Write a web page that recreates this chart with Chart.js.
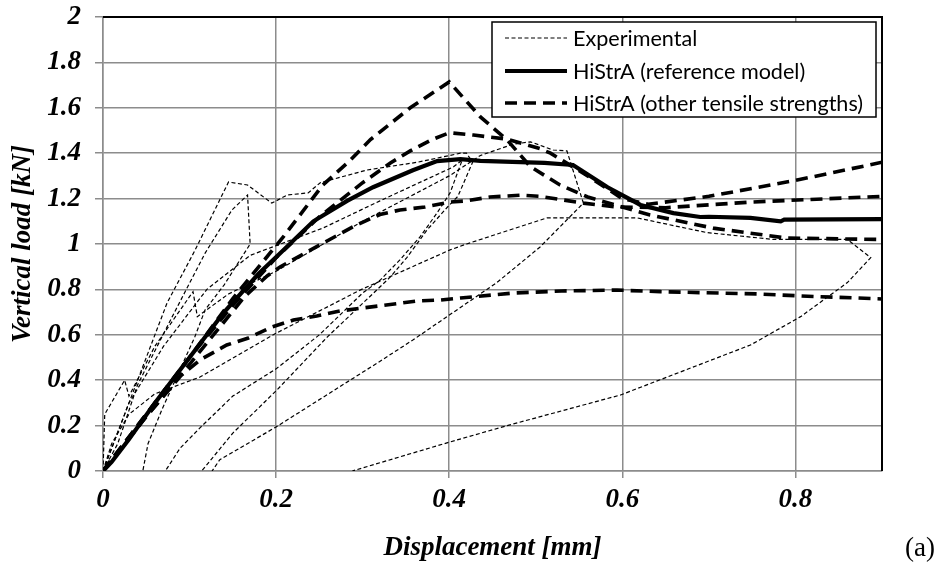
<!DOCTYPE html>
<html><head><meta charset="utf-8">
<script src="https://cdn.jsdelivr.net/npm/chart.js@4/dist/chart.umd.min.js"></script>
<style>html,body{margin:0;padding:0;background:#fff;}#wrap{width:945px;height:579px;position:relative;}</style>
</head><body><div id="wrap"><canvas id="c" width="945" height="579"></canvas></div>
<script>
// ---- data (displacement [mm], vertical load [kN]) ----
const xTickValues = [0, 0.2, 0.4, 0.6, 0.8];
const yTickValues = [0, 0.2, 0.4, 0.6, 0.8, 1, 1.2, 1.4, 1.6, 1.8, 2];
const legendLabels = ["Experimental", "HiStrA (reference model)", "HiStrA (other tensile strengths)"];

const refModel = [[0,0],[0.01,0.04],[0.03,0.14],[0.06,0.3],[0.1,0.5],[0.14,0.7],[0.18,0.87],[0.205,0.96],[0.243,1.1],[0.282,1.19],[0.312,1.25],[0.358,1.325],[0.386,1.365],[0.413,1.374],[0.436,1.366],[0.51,1.357],[0.543,1.348],[0.583,1.25],[0.621,1.172],[0.659,1.136],[0.69,1.119],[0.70,1.12],[0.748,1.115],[0.783,1.10],[0.787,1.107],[0.9,1.11]];

const otherA = [[0,0],[0.05,0.25],[0.1,0.5],[0.15,0.76],[0.208,1.03],[0.254,1.26],[0.286,1.37],[0.309,1.46],[0.355,1.6],[0.4,1.714],[0.436,1.56],[0.467,1.458],[0.494,1.34],[0.528,1.26],[0.56,1.207],[0.632,1.128],[0.705,1.07],[0.79,1.026],[0.9,1.02]];
const otherB = [[0,0],[0.05,0.25],[0.1,0.5],[0.15,0.73],[0.2,0.94],[0.25,1.12],[0.3,1.27],[0.332,1.357],[0.355,1.41],[0.38,1.46],[0.4,1.49],[0.428,1.48],[0.467,1.462],[0.505,1.42],[0.517,1.40],[0.56,1.3],[0.6,1.2],[0.63,1.175],[0.7,1.21],[0.8,1.28],[0.9,1.36]];
const otherC = [[0,0],[0.05,0.24],[0.1,0.47],[0.164,0.77],[0.19,0.86],[0.205,0.9],[0.262,1.02],[0.291,1.08],[0.32,1.13],[0.343,1.15],[0.372,1.163],[0.401,1.185],[0.42,1.19],[0.447,1.207],[0.482,1.215],[0.505,1.21],[0.555,1.18],[0.594,1.163],[0.65,1.16],[0.75,1.185],[0.9,1.21]];
const otherD = [[0,0],[0.05,0.24],[0.09,0.42],[0.112,0.489],[0.143,0.555],[0.168,0.586],[0.195,0.634],[0.22,0.665],[0.247,0.683],[0.274,0.705],[0.3,0.718],[0.363,0.749],[0.39,0.753],[0.413,0.762],[0.474,0.784],[0.53,0.793],[0.594,0.797],[0.644,0.79],[0.756,0.78],[0.814,0.77],[0.9,0.758]];

const exp1 = [[0,0],[0.01,0.12],[0.03,0.25],[0.06,0.34],[0.112,0.414],[0.2,0.607],[0.297,0.797],[0.401,0.974],[0.42,1.0],[0.513,1.115],[0.617,1.115],[0.698,1.05],[0.775,1.02],[0.86,1.02],[0.887,0.94],[0.86,0.83],[0.806,0.68],[0.748,0.555],[0.598,0.335],[0.467,0.2],[0.401,0.128],[0.288,0]];
const exp2 = [[0,0],[0.02,0.2],[0.045,0.45],[0.074,0.74],[0.106,0.97],[0.145,1.273],[0.167,1.26],[0.195,1.18],[0.213,1.216],[0.237,1.225],[0.251,1.27],[0.305,1.326],[0.363,1.36],[0.413,1.4],[0.42,1.40],[0.427,1.36],[0.41,1.21],[0.398,1.163],[0.374,1.06],[0.351,0.94],[0.332,0.855],[0.317,0.8],[0.259,0.59],[0.201,0.357],[0.15,0.167],[0.114,0]];
const exp3 = [[0,0],[0.017,0.12],[0.04,0.38],[0.08,0.68],[0.118,0.96],[0.149,1.15],[0.167,1.216],[0.17,1.0],[0.14,0.82],[0.118,0.71],[0.106,0.59],[0.087,0.43],[0.068,0.27],[0.052,0.12],[0.046,0]];
const exp4 = [[0,0],[0.002,0.25],[0.025,0.40],[0.03,0.33],[0.06,0.55],[0.104,0.79],[0.109,0.68],[0.145,0.78],[0.2,0.88],[0.3,1.1],[0.4,1.3],[0.436,1.39],[0.474,1.44],[0.494,1.45],[0.52,1.414],[0.536,1.41],[0.555,1.18],[0.505,0.987],[0.455,0.83],[0.358,0.577],[0.317,0.476],[0.2,0.194],[0.135,0.05],[0.126,0]];
const exp5 = [[0,0],[0.03,0.3],[0.07,0.55],[0.12,0.8],[0.17,0.95],[0.205,1.0],[0.254,1.07],[0.32,1.19],[0.405,1.34],[0.415,1.37],[0.401,1.225],[0.386,1.137],[0.366,1.03],[0.343,0.93],[0.32,0.84],[0.3,0.784],[0.25,0.6],[0.2,0.45],[0.15,0.33],[0.112,0.19],[0.089,0.1],[0.072,0]];

const expCurves = [exp1, exp2, exp3, exp4, exp5];
const otherCurves = [otherA, otherB, otherC, otherD];

// ---- styles ----
const SERIF = '"Liberation Serif", "Times New Roman", serif';
const expStyle = {borderColor:'#000', borderWidth:1.2, borderDash:[4,2.5]};
const refStyle = {borderColor:'#000', borderWidth:4.2, borderDash:[]};
const othStyle = {borderColor:'#000', borderWidth:3.6, borderDash:[12,7]};

const toPts = arr => arr.map(p => ({x:p[0], y:p[1]}));
const datasets = [];
expCurves.forEach((c,i) => datasets.push(Object.assign({label: i===0?legendLabels[0]:'', data: toPts(c), order: 3}, expStyle)));
otherCurves.forEach((c,i) => datasets.push(Object.assign({label: i===0?legendLabels[2]:'', data: toPts(c), order: 2}, othStyle)));
datasets.push(Object.assign({label: legendLabels[1], data: toPts(refModel), order: 1}, refStyle));
datasets.forEach(d => { d.showLine = true; d.pointRadius = 0; d.pointHoverRadius = 0; d.tension = 0; d.fill = false; d.borderCapStyle = 'butt'; d.borderJoinStyle='miter'; });

const fmt = v => String(Number(v.toFixed(1)));

const framePlugin = {
  id: 'frame',
  afterDatasetsDraw(chart) {
    const {ctx, chartArea: a} = chart;
    ctx.save();
    ctx.strokeStyle = '#000'; ctx.lineWidth = 2; ctx.setLineDash([]);
    ctx.beginPath(); ctx.moveTo(a.left, a.top); ctx.lineTo(a.right, a.top); ctx.lineTo(a.right, a.bottom); ctx.stroke();
    // legend
    const bx = 492, by = 22, bw = 384, bh = 95;
    ctx.fillStyle = '#fff'; ctx.fillRect(bx, by, bw, bh);
    ctx.lineWidth = 1.5; ctx.strokeRect(bx, by, bw, bh);
    const styles = [expStyle, refStyle, othStyle];
    const rows = [38, 71, 103];
    ctx.font = '20px Lato';
    const w = ctx.measureText(legendLabels[2]).width;
    const fs = 20 * 290 / w;
    ctx.font = fs.toFixed(2) + 'px Lato';
    ctx.textBaseline = 'middle'; ctx.textAlign = 'left'; ctx.fillStyle = '#000';
    rows.forEach((y, i) => {
      const s = styles[i];
      ctx.strokeStyle = '#000'; ctx.lineWidth = s.borderWidth; ctx.setLineDash(s.borderDash); ctx.lineCap='butt';
      ctx.beginPath(); ctx.moveTo(505, y); ctx.lineTo(567, y); ctx.stroke();
      ctx.setLineDash([]);
      ctx.fillText(legendLabels[i], 573, y + 1);
    });
    // panel tag
    ctx.font = '27px ' + SERIF; ctx.textAlign = 'left';
    ctx.fillText('(a)', 905, 549);
    ctx.restore();
  }
};

new Chart(document.getElementById('c'), {
  type: 'scatter',
  data: {datasets},
  options: {
    responsive: false, animation: false, devicePixelRatio: 1,
    layout: {padding: {left: 0, right: 63, top: 17, bottom: 0}},
    plugins: {legend: {display: false}, tooltip: {enabled: false}},
    scales: {
      x: {
        type: 'linear', min: 0, max: 0.9,
        afterFit: s => { s.height = 108; s.paddingLeft = 0; s.paddingRight = 0; },
        ticks: {stepSize: 0.2, includeBounds: false, autoSkip: false, maxRotation: 0, padding: 6, color: '#000',
          font: {family: SERIF, size: 27, style: 'italic', weight: 'bold'}, callback: v => fmt(v)},
        afterBuildTicks: s => { s.ticks = xTickValues.map(v => ({value: v})); },
        grid: {color: '#8c8c8c', lineWidth: 1.5, tickLength: 7, drawTicks: true},
        border: {color: '#8c8c8c', width: 1.5},
        title: {display: true, text: 'Displacement [mm]', color: '#000', padding: {top: 0, bottom: 15},
          font: {family: SERIF, size: 27, style: 'italic', weight: 'bold'}}
      },
      y: {
        type: 'linear', min: 0, max: 2,
        afterFit: s => { s.width = 103; s.paddingTop = 0; s.paddingBottom = 0; },
        afterBuildTicks: s => { s.ticks = yTickValues.map(v => ({value: v})); },
        ticks: {stepSize: 0.2, autoSkip: false, padding: 14, color: '#000',
          font: {family: SERIF, size: 27, style: 'italic', weight: 'bold'}, callback: v => fmt(v)},
        grid: {color: '#8c8c8c', lineWidth: 1.5, tickLength: 8, drawTicks: true},
        border: {color: '#8c8c8c', width: 1.5},
        title: {display: true, text: 'Vertical load [kN]', color: '#000', padding: {top: 7, bottom: 0},
          font: {family: SERIF, size: 27, style: 'italic', weight: 'bold'}}
      }
    }
  },
  plugins: [framePlugin]
});
</script></body></html>
